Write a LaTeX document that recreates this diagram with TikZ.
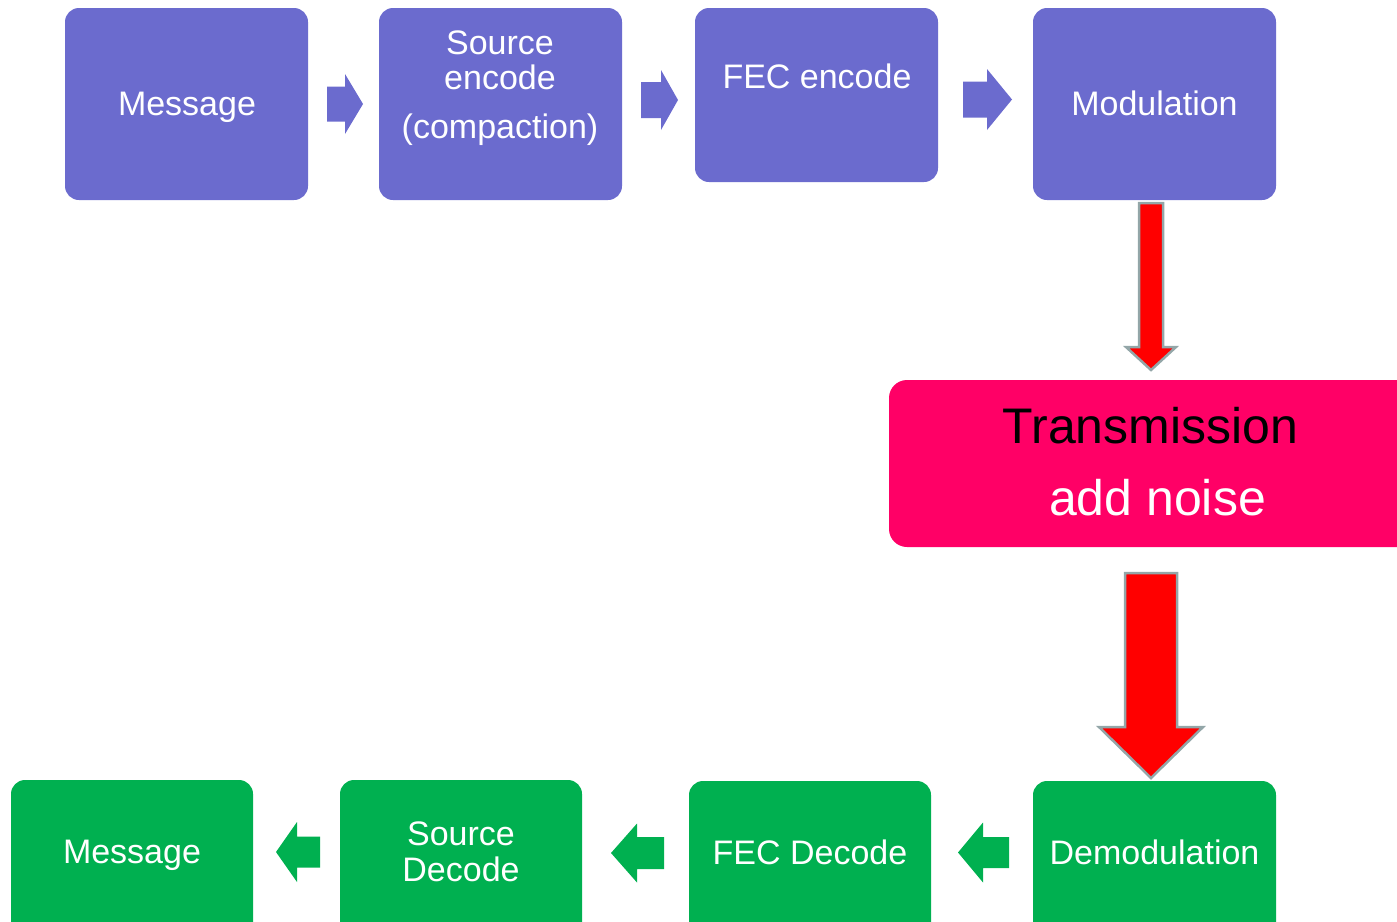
\documentclass[tikz,border=0pt]{standalone}
\usepackage{fontspec}
\setmainfont{Liberation Sans}
\usetikzlibrary{calc}

\definecolor{txblue}{HTML}{6B6BCE}
\definecolor{rxgreen}{HTML}{00B050}
\definecolor{chanpink}{HTML}{FF0066}
\definecolor{arrowred}{HTML}{FF0000}
\definecolor{arrowgrey}{HTML}{93A6A8}

% horizontal block arrow: start x, head base x, tip x, centre y, half shaft, half head
\newcommand\hblock[7][]{%
  \fill[#1] (#2,#5-#6) -- (#3,#5-#6) -- (#3,#5-#7) -- (#4,#5)
    -- (#3,#5+#7) -- (#3,#5+#6) -- (#2,#5+#6) -- cycle;}
% vertical block arrow: centre x, start y, head base y, tip y, half shaft, half head
\newcommand\vblock[6]{%
  \filldraw[fill=arrowred, draw=arrowgrey, line width=2.5pt, line join=miter]
    (#1-#5,#2) -- (#1+#5,#2) -- (#1+#5,#3) -- (#1+#6,#3) -- (#1,#4)
    -- (#1-#6,#3) -- (#1-#5,#3) -- cycle;}

\begin{document}
\begin{tikzpicture}[x=1pt,y=-1pt,
  stage/.style={rectangle, rounded corners=14pt, inner sep=0pt, outer sep=0pt},
  txstage/.style={stage, fill=txblue},
  rxstage/.style={stage, fill=rxgreen},
  lbl/.style={inner sep=0pt, text=white, anchor=base, font=\fontsize{34}{40}\selectfont},
  biglbl/.style={inner sep=0pt, anchor=base, font=\fontsize{50}{60}\selectfont}]

\useasboundingbox (0,0) rectangle (1397,921);
\clip (0,0) rectangle (1397,921);

% transmitter chain
\node[txstage, minimum width=243pt, minimum height=192pt] (msgA) at (186.5,104) {};
\node[txstage, minimum width=243pt, minimum height=192pt] (srcenc) at (500.5,104) {};
\node[txstage, minimum width=243pt, minimum height=174pt] (fecenc) at (816.5,95) {};
\node[txstage, minimum width=243pt, minimum height=192pt] (mod) at (1154.5,104) {};

\node[lbl] (tmsgA) at (187,115) {Message};
\node[lbl] (tsrc1) at (500,54) {Source};
\node[lbl] (tsrc2) at (500,89) {encode};
\node[lbl] (tsrc3) at (500,138) {(compaction)};
\node[lbl] (tfec) at (817,88) {FEC encode};
\node[lbl] (tmod) at (1154.5,115) {Modulation};

\hblock[txblue]{327}{345}{363}{104}{17.5}{30}
\hblock[txblue]{641}{661}{678}{100}{18}{30}
\hblock[txblue]{963}{987}{1012}{99.5}{18}{30.5}

% channel
\node[stage, rounded corners=18pt, fill=chanpink, minimum width=531pt, minimum height=167pt] (chan) at (1154.5,463.5) {};
\node[biglbl, text=black] (tchan1) at (1150.5,443) {Transmission};
\node[biglbl, text=white] (tchan2) at (1157.5,515) {add noise};

\vblock{1151}{203}{347}{370}{12}{25}
\vblock{1151}{573}{727}{778}{26}{52}

% receiver chain
\node[rxstage, minimum width=242pt, minimum height=180pt] (msgB) at (132,870) {};
\node[rxstage, minimum width=242pt, minimum height=180pt] (srcdec) at (461,870) {};
\node[rxstage, minimum width=242pt, minimum height=178pt] (fecdec) at (810,870) {};
\node[rxstage, minimum width=243pt, minimum height=178pt] (demod) at (1154.5,870) {};

\node[lbl] (tmsgB) at (132,863) {Message};
\node[lbl] (tsd1) at (461,845) {Source};
\node[lbl] (tsd2) at (461,881) {Decode};
\node[lbl] (tfd) at (810,864) {FEC Decode};
\node[lbl] (tdem) at (1154.5,864) {Demodulation};

\hblock[rxgreen]{320}{297}{276}{852}{15.5}{30}
\hblock[rxgreen]{664}{637}{611}{853}{16}{29.5}
\hblock[rxgreen]{1009}{983}{958}{852.5}{15.5}{30}

\end{tikzpicture}
\end{document}
